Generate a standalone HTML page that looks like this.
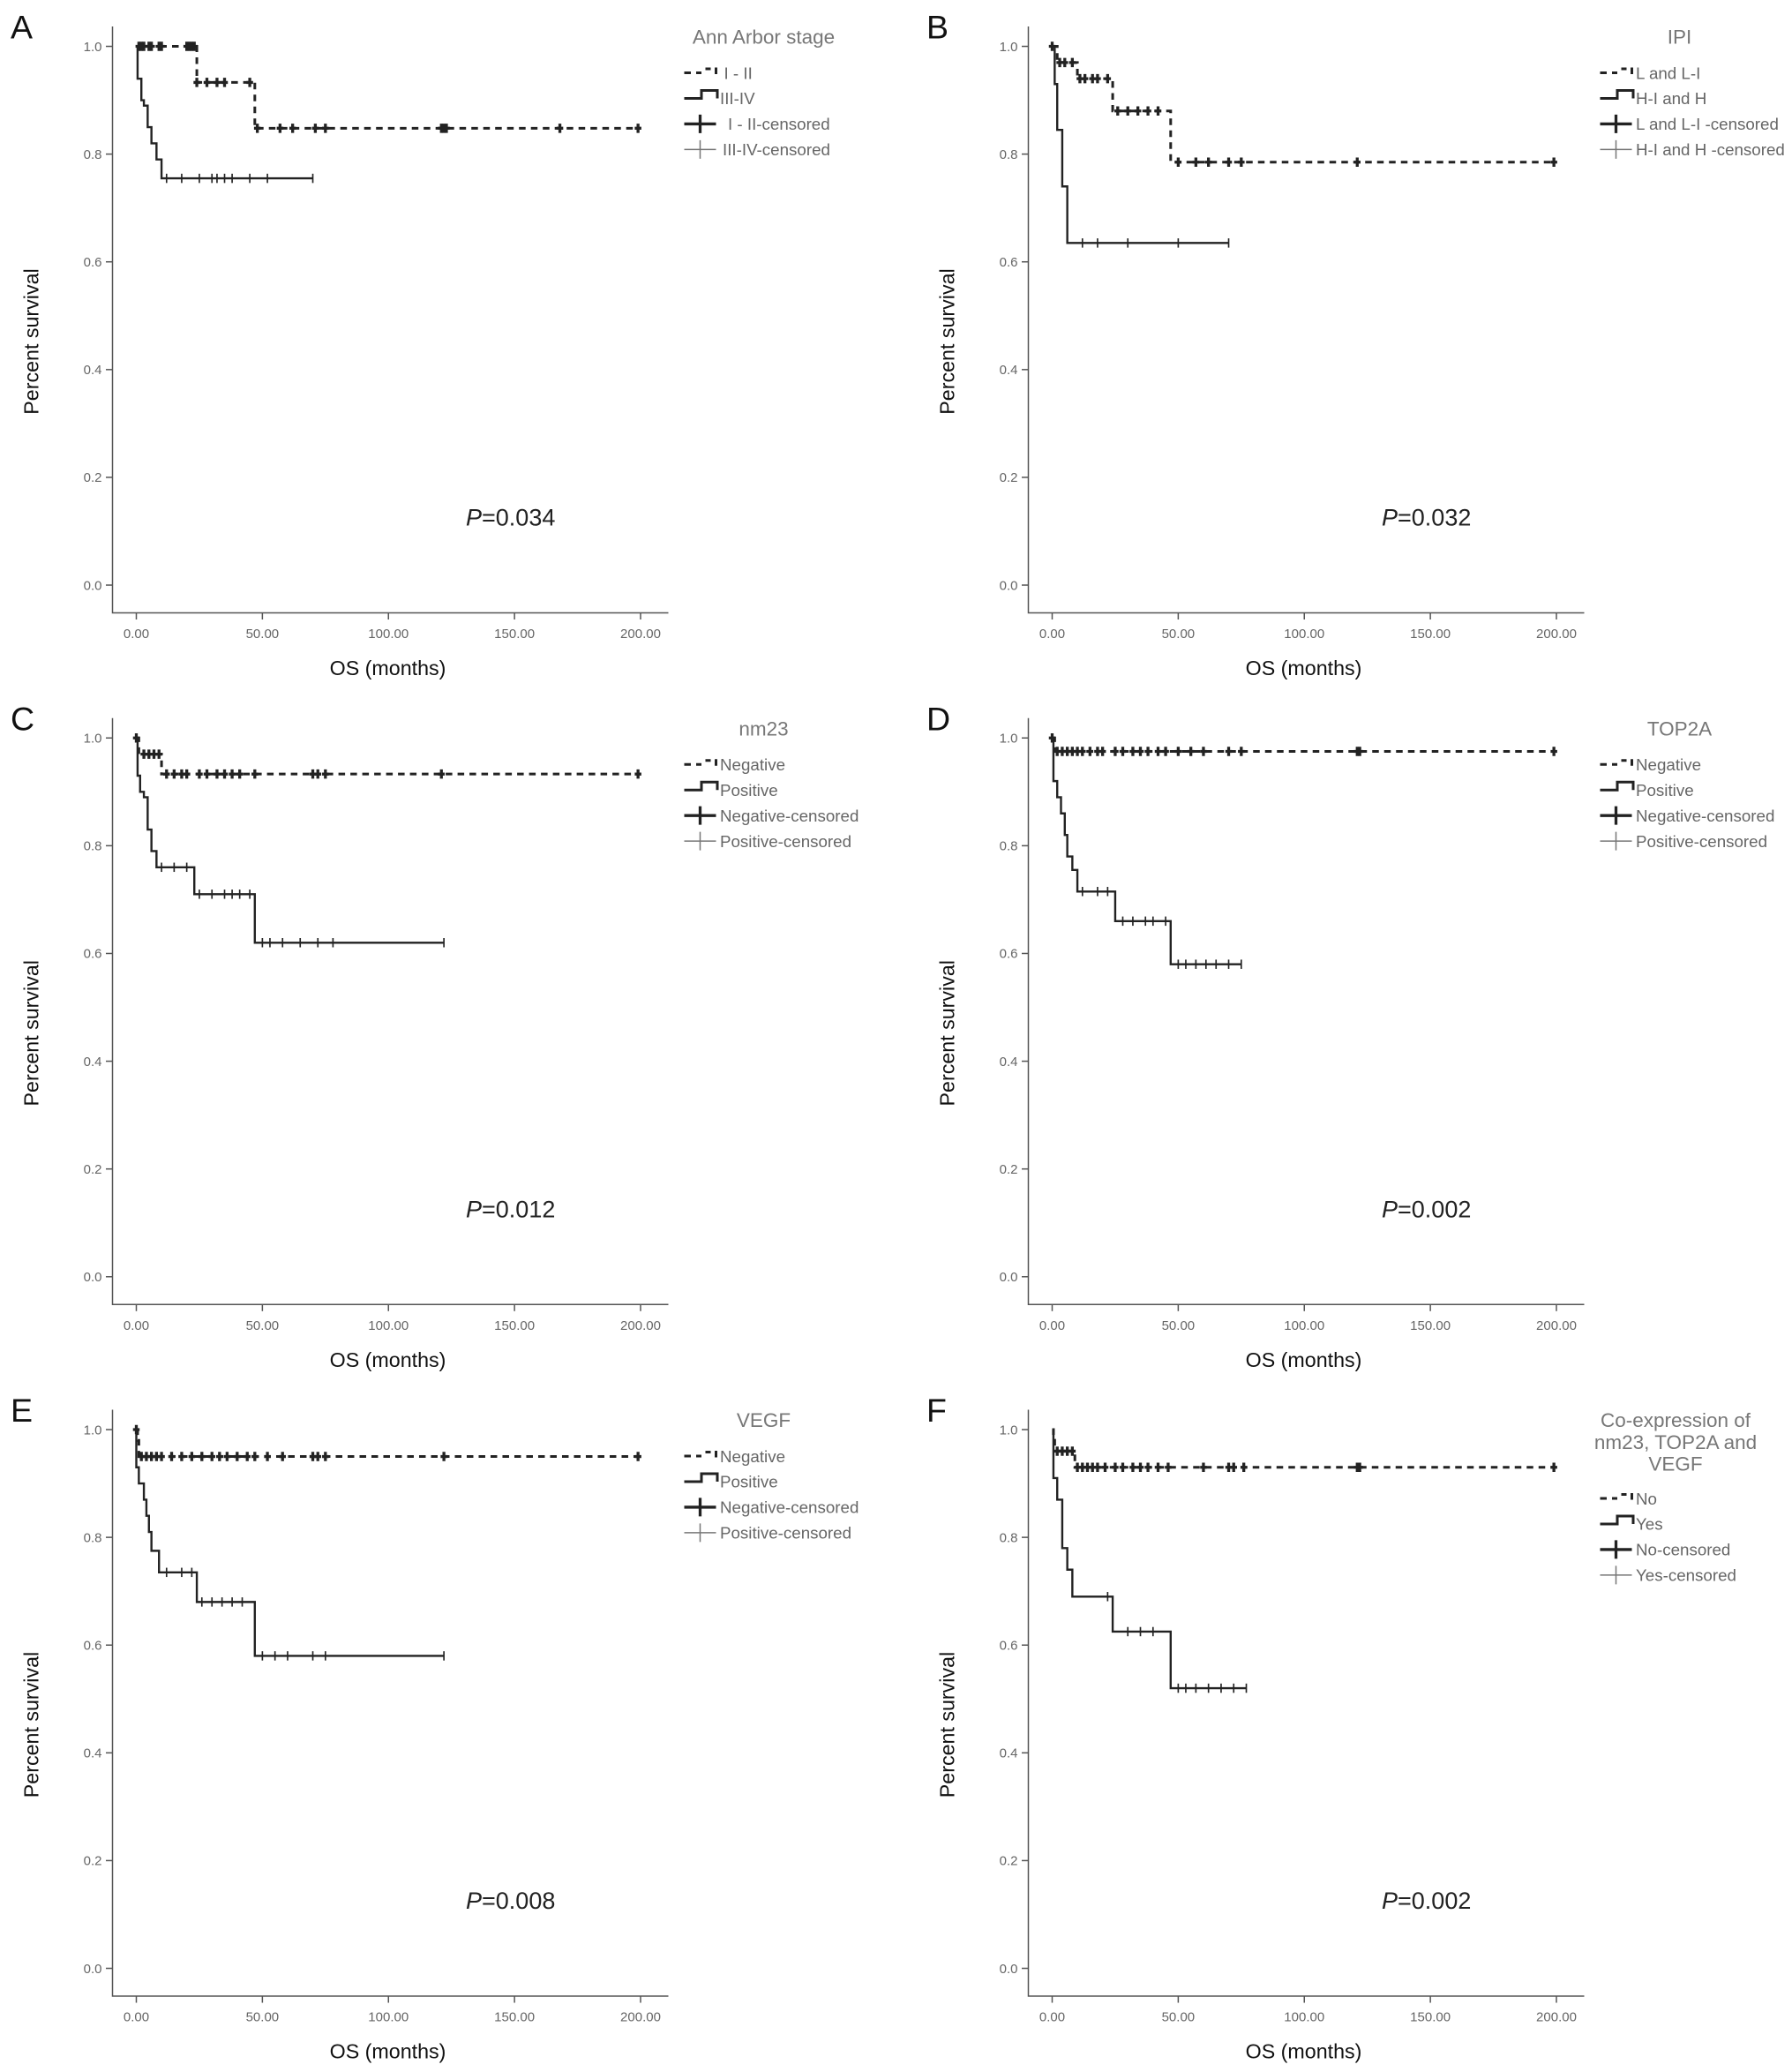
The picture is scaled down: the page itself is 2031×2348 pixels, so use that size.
<!DOCTYPE html>
<html><head><meta charset="utf-8"><style>
html,body{margin:0;padding:0;background:#fff;}
svg{display:block;font-family:"Liberation Sans",Arial,sans-serif;}
</style></head><body>
<svg id="fig" width="2031" height="2348" viewBox="0 0 1354 1565.3" xmlns="http://www.w3.org/2000/svg"></svg>
<script>
// ---- Data (times in months, survival proportion) ----
const panelLetters = ["A","B","C","D","E","F"];
const panelPvalues = ["0.034","0.032","0.012","0.002","0.008","0.002"];
const legendTitles = [["Ann Arbor stage"],["IPI"],["nm23"],["TOP2A"],["VEGF"],["Co-expression of","nm23, TOP2A and","VEGF"]];
const legendLabels = [
 ["I - II","III-IV","I - II-censored","III-IV-censored"],
 ["L and L-I","H-I and H","L and L-I -censored","H-I and H -censored"],
 ["Negative","Positive","Negative-censored","Positive-censored"],
 ["Negative","Positive","Negative-censored","Positive-censored"],
 ["Negative","Positive","Negative-censored","Positive-censored"],
 ["No","Yes","No-censored","Yes-censored"]];
const xTicks = [0,50,100,150,200];
const xTickLabels = ["0.00","50.00","100.00","150.00","200.00"];
const yTicks = [0,0.2,0.4,0.6,0.8,1.0];
const yTickLabels = ["0.0","0.2","0.4","0.6","0.8","1.0"];
// dashed (group 1) series
const dashDropTimes = [[24,47],[2,10,24,47],[1,10],[1],[0.5,1],[0.5,1,9]];
const dashDropSurv = [[0.933,0.848],[0.97,0.94,0.88,0.785],[0.97,0.933],[0.975],[0.98,0.95],[0.985,0.96,0.93]];
const dashEnd = [199,199,199,199,199,199];
const dashCensor = [
 [1,2,3,5,6,9,10,20,21,22,23,24,28,32,35,45,48,57,62,71,75,121,122,123,168,199],
 [0,3,5,8,11,13,16,18,22,26,30,34,38,42,50,57,62,70,75,121,199],
 [0,3,5,7,9,12,15,18,20,25,28,32,35,38,41,47,70,72,75,121,199],
 [0,2,4,6,8,10,12,15,18,20,25,28,32,35,38,42,45,50,55,60,70,75,121,122,199],
 [0,2,4,6,8,10,14,18,22,26,30,33,36,40,44,47,52,58,70,72,75,122,199],
 [2,4,6,8,10,12,14,16,18,21,25,28,32,35,38,42,46,60,70,72,76,121,122,199]];
// solid (group 2) series
const solidDropTimes = [[0.5,2,3,4.5,6,8,10],[1,2,4,6],[0.5,1.5,3,4.5,6,8,23,47],[0.5,2,3.5,5,6,8,10,25,47],[0,1,3,4,5,6,9,24,47],[0.5,2,4,6,8,24,47]];
const solidDropSurv = [[0.94,0.90,0.89,0.85,0.82,0.79,0.755],[0.93,0.845,0.74,0.635],[0.93,0.90,0.89,0.83,0.79,0.76,0.71,0.62],[0.92,0.89,0.86,0.82,0.78,0.755,0.715,0.66,0.58],[0.93,0.90,0.87,0.84,0.81,0.775,0.735,0.68,0.58],[0.91,0.87,0.78,0.74,0.69,0.625,0.52]];
const solidEnd = [70,70,122,75,122,77];
const solidCensor = [
 [12,18,25,30,32,35,38,45,52,70],
 [12,18,30,50,70],
 [10,15,20,25,30,35,38,41,45,50,53,58,65,72,78,122],
 [12,18,22,28,32,37,40,45,50,53,57,61,65,70,75],
 [12,18,22,26,30,34,38,42,50,55,60,70,75,122],
 [22,30,35,40,50,53,57,62,67,72,77]];

const NS="http://www.w3.org/2000/svg";
const svg=document.getElementById('fig');
function mk(tag,attrs,parent){const e=document.createElementNS(NS,tag);for(const k in attrs)e.setAttribute(k,attrs[k]);(parent||svg).appendChild(e);return e;}
function survAt(times,surv,t){let s=1;for(let i=0;i<times.length;i++){if(times[i]<=t)s=surv[i];}return s;}

panelLetters.forEach((L,p)=>{
  const dx=(p%2)*692, dy=Math.floor(p/2)*522.5;
  const X=t=>dx+103+t*(381/200);
  const Y=s=>dy+442-s*407;
  const g=mk('g',{});
  
  
  const lt=mk('text',{x:dx+8,y:dy+29,'font-size':25,fill:'#111'},g);lt.textContent=L;
  
  const ax=mk('path',{d:`M${dx+85} ${dy+20} V${dy+463} H${dx+505}`,stroke:'#555',fill:'none','stroke-width':1},g);
  
  yTicks.forEach((v,i)=>{
    mk('line',{x1:dx+80,x2:dx+85,y1:Y(v),y2:Y(v),stroke:'#555'},g);
    const t=mk('text',{x:dx+77,y:Y(v)+3.5,'font-size':10,fill:'#666','text-anchor':'end'},g);t.textContent=yTickLabels[i];
    
  });
  xTicks.forEach((v,i)=>{
    mk('line',{x1:X(v),x2:X(v),y1:dy+463,y2:dy+468,stroke:'#555'},g);
    const t=mk('text',{x:X(v),y:dy+482,'font-size':10,fill:'#666','text-anchor':'middle'},g);t.textContent=xTickLabels[i];
    
  });
  const xt=mk('text',{x:dx+293,y:dy+510,'font-size':15.5,fill:'#111','text-anchor':'middle'},g);xt.textContent='OS (months)';
  
  const yt=mk('text',{x:0,y:0,'font-size':15.5,fill:'#111','text-anchor':'middle',transform:`translate(${dx+29},${dy+258}) rotate(-90)`},g);yt.textContent='Percent survival';
  
  const pv=mk('text',{x:dx+352,y:dy+397,'font-size':18,fill:'#222'},g);
  pv.innerHTML='<tspan font-style="italic">P</tspan>='+panelPvalues[p];
  
  function series(times,surv,end,cens,dashed,name){
    let d=`M${X(0)} ${Y(1)}`;
    times.forEach((t,i)=>{d+=` H${X(t)} V${Y(surv[i])}`;});
    d+=` H${X(end)}`;
    const sp=mk('path',{d:d,fill:'none',stroke:'#222','stroke-width':dashed?2:1.6,'stroke-dasharray':dashed?'5,4':'none'},g);
    
    cens.forEach(c=>{
      const s=survAt(times,surv,c);
      const m=mk('path',{d:dashed?`M${X(c)} ${Y(s)-3.5} V${Y(s)+3.5} M${X(c)-2.5} ${Y(s)} H${X(c)+2.5}`:`M${X(c)} ${Y(s)-3.5} V${Y(s)+3.5}`,fill:'none',stroke:'#222','stroke-width':dashed?2.2:1.1},g);
      
    });
  }
  series(dashDropTimes[p],dashDropSurv[p],dashEnd[p],dashCensor[p],true,'group1');
  series(solidDropTimes[p],solidDropSurv[p],solidEnd[p],solidCensor[p],false,'group2');
  const lg=mk('g',{},g);
  const titles=legendTitles[p];
  titles.forEach((tt,i)=>{const t=mk('text',{x:dx+(p===5?574:577),y:dy+33+i*16.5,'font-size':15,fill:'#777','text-anchor':'middle'},lg);t.textContent=tt;
    });
  const ly0=dy+(p===5?87:55);
  legendLabels[p].forEach((lab,i)=>{
    const y=ly0+i*19.3, x=dx+517;
    if(i===0){mk('path',{d:`M${x} ${y} h5 M${x+9} ${y} h4 M${x+16} ${y-3} h4 M${x+24} ${y-4} v5`,stroke:'#222','stroke-width':2,fill:'none'},lg);}
    else if(i===1){mk('path',{d:`M${x} ${y} h13 v-6 h12 v6`,stroke:'#222','stroke-width':2,fill:'none'},lg);}
    else if(i===2){mk('path',{d:`M${x} ${y} h24 M${x+12} ${y-7} v14`,stroke:'#222','stroke-width':2.2,fill:'none'},lg);}
    else {mk('path',{d:`M${x} ${y} h24 M${x+12} ${y-7} v14`,stroke:'#777','stroke-width':1,fill:'none'},lg);}
    const t=mk('text',{x:x+(i===0&&p===0?30:i===2&&p===0?33:i===3&&p===0?29:27),y:y+4.5,'font-size':12.5,fill:'#666'},lg);t.textContent=lab;
    
  });
});
</script>
</body></html>
